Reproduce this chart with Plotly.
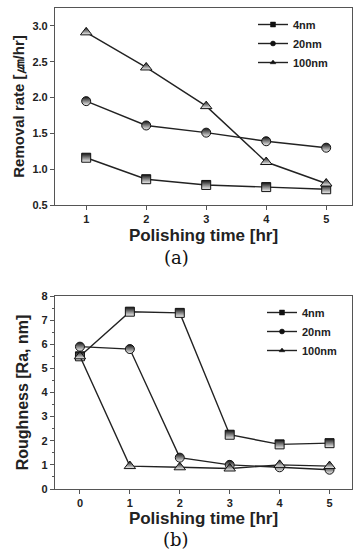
import plotly.graph_objects as go

# (a) removal rate
time_a = [1, 2, 3, 4, 5]
rate_4nm = [1.16, 0.86, 0.78, 0.75, 0.72]
rate_20nm = [1.95, 1.61, 1.51, 1.39, 1.30]
rate_100nm = [2.91, 2.42, 1.88, 1.10, 0.80]

# (b) roughness
time_b = [0, 1, 2, 3, 4, 5]
rough_4nm = [5.5, 7.35, 7.3, 2.25, 1.85, 1.9]
rough_20nm = [5.9, 5.8, 1.3, 1.0, 0.9, 0.8]
rough_100nm = [5.5, 0.95, 0.9, 0.85, 1.0, 0.95]

names = ["4nm", "20nm", "100nm"]
symbols = ["square", "circle", "triangle-up"]

FONT = "Liberation Sans, Arial, sans-serif"
LINE = "#222222"
W, H = 353, 559

fig = go.Figure()

def add(x, ys, xa, ya, legend):
    for y, n, s in zip(ys, names, symbols):
        fig.add_trace(go.Scatter(
            x=x, y=y, name=n, mode="lines+markers",
            xaxis=xa, yaxis=ya, showlegend=False,
            line=dict(color=LINE, width=1.4),
            marker=dict(symbol=s, size=10 if s == "triangle-up" else 9, color="#111111",
                        gradient=dict(type="vertical", color="#f4f4f4"),
                        line=dict(color="#111111", width=1)),
        ))
    # legend entries with small markers, as in the original
    for n, s in zip(names, symbols):
        fig.add_trace(go.Scatter(
            x=[None], y=[None], name=n, mode="lines+markers",
            xaxis=xa, yaxis=ya, legend=legend, showlegend=True,
            line=dict(color=LINE, width=1.4),
            marker=dict(symbol=s, size=5, color="#111111",
                        line=dict(color="#111111", width=0.5)),
        ))

add(time_a, [rate_4nm, rate_20nm, rate_100nm], "x", "y", "legend")
add(time_b, [rough_4nm, rough_20nm, rough_100nm], "x2", "y2", "legend2")

axis_common = dict(
    showline=True, linecolor="#555555", linewidth=1.2, mirror=True,
    ticks="outside", ticklen=4, tickcolor="#555555", showgrid=False, zeroline=False,
    automargin=False,
    tickfont=dict(family=FONT, size=11, color="#222222", weight="bold"),
)

TITLE_X = dict(family=FONT, size=17, weight="bold")

def px_x(p):
    return p / W

def px_y(p):
    return 1 - p / H

fig.update_layout(
    width=W, height=H,
    margin=dict(l=0, r=0, t=0, b=0, autoexpand=False),
    paper_bgcolor="white", plot_bgcolor="white",
    font=dict(family=FONT, color="#222222"),
    xaxis=dict(domain=[px_x(55), px_x(352)], range=[0.48, 5.43], anchor="y",
               tickvals=time_a,
               title=dict(text="Polishing time [hr]", standoff=4, font=TITLE_X),
               **axis_common),
    yaxis=dict(domain=[px_y(205), px_y(8)], range=[0.5, 3.25], anchor="x",
               tickvals=[0.5, 1.0, 1.5, 2.0, 2.5, 3.0], tickformat=".1f",
               title=dict(text="Removal rate [㎛/hr]", standoff=4,
                          font=dict(family=FONT, size=15, weight="bold")),
               **axis_common),
    xaxis2=dict(domain=[px_x(55), px_x(352)], range=[-0.5, 5.45], anchor="y2",
                tickvals=time_b,
                title=dict(text="Polishing time [hr]", standoff=1, font=TITLE_X),
                **axis_common),
    yaxis2=dict(domain=[px_y(489), px_y(296)], range=[0, 8], anchor="x2",
                tickvals=[0, 1, 2, 3, 4, 5, 6, 7, 8],
                minor=dict(ticks="outside", ticklen=2, tickcolor="#555555", dtick=0.5),
                title=dict(text="Roughness [Ra, nm]", standoff=8,
                           font=dict(family=FONT, size=16, weight="bold")),
                **axis_common),
    legend=dict(x=px_x(253), y=px_y(10), xanchor="left", yanchor="top",
                bgcolor="rgba(0,0,0,0)", itemwidth=30, tracegroupgap=0,
                font=dict(family=FONT, size=11, weight="bold")),
    legend2=dict(x=px_x(262), y=px_y(298), xanchor="left", yanchor="top",
                 bgcolor="rgba(0,0,0,0)", itemwidth=30, tracegroupgap=0,
                 font=dict(family=FONT, size=11, weight="bold")),
    annotations=[
        dict(text="(a)", x=px_x(176), y=px_y(257), xref="paper", yref="paper",
             xanchor="center", yanchor="middle",
             showarrow=False, font=dict(family="DejaVu Serif, serif", size=18, color="#111111")),
        dict(text="(b)", x=px_x(176), y=px_y(539), xref="paper", yref="paper",
             xanchor="center", yanchor="middle",
             showarrow=False, font=dict(family="DejaVu Serif, serif", size=18, color="#111111")),
    ],
)

fig.write_html("out.html", config={"displayModeBar": False},
               post_script="document.body.style.margin='0';")
